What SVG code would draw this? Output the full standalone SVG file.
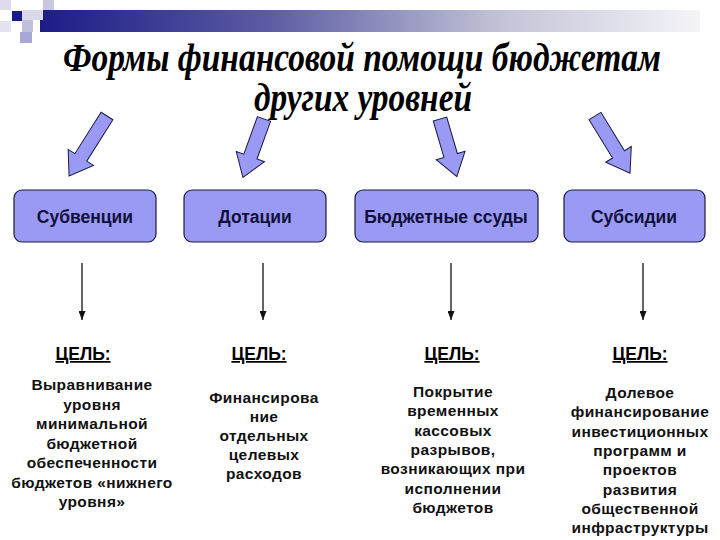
<svg xmlns="http://www.w3.org/2000/svg" width="720" height="540" viewBox="0 0 720 540">
<defs>
<linearGradient id="bar" x1="0" y1="0" x2="1" y2="0">
<stop offset="0" stop-color="#1c1c86"/>
<stop offset="0.35" stop-color="#5c5ca4"/>
<stop offset="0.7" stop-color="#c4c4d8"/>
<stop offset="1" stop-color="#f4f4f8"/>
</linearGradient>
<marker id="ah" viewBox="0 0 9 7" refX="9" refY="3.5" markerWidth="9" markerHeight="7" markerUnits="userSpaceOnUse" orient="auto">
<path d="M0,0 L9,3.5 L0,7 Z" fill="#111"/>
</marker>
<style>
.title{font-family:"Liberation Serif",serif;font-style:italic;font-weight:bold;font-size:39px;fill:#000;text-anchor:middle}
.box rect{fill:#9a9af5;stroke:#1a1a40;stroke-width:1.2}
.box text{font-family:"Liberation Sans",Arial,sans-serif;font-weight:bold;font-size:17.5px;fill:#10103a;text-anchor:middle}
.barrow{fill:#9a9af5;stroke:#1a1a40;stroke-width:1}
.conn line{stroke:#111;stroke-width:1.3}
.goal{font-family:"Liberation Sans",Arial,sans-serif;font-weight:bold;font-size:17.5px;fill:#000;text-anchor:middle;text-decoration:underline}
.desc{font-family:"Liberation Sans",Arial,sans-serif;font-weight:bold;font-size:15.5px;letter-spacing:0.4px;fill:#111;text-anchor:middle}
</style>
</defs>
<rect width="720" height="540" fill="#ffffff"/>
<g id="decor">
<rect x="40" y="10" width="660" height="22" fill="url(#bar)"/>
<rect x="0" y="0" width="11" height="10" fill="#dcdcec"/>
<rect x="43" y="0" width="11" height="10" fill="#c8c8e0"/>
<rect x="22" y="10" width="21" height="10" fill="#d8d8e8"/>
<rect x="12" y="11" width="10" height="10" fill="#1a1a8c"/>
<rect x="0" y="21" width="11" height="11" fill="#e4e4f0"/>
<rect x="22" y="20" width="11" height="12" fill="#c0c0dc"/>
<rect x="20" y="32" width="12" height="11" fill="#a8a8d4"/>
</g>
<g id="title">
<text class="title" x="362" y="71" textLength="598" lengthAdjust="spacingAndGlyphs">Формы финансовой помощи бюджетам</text>
<text class="title" x="363" y="111" textLength="218" lengthAdjust="spacingAndGlyphs">других уровней</text>
</g>
<g id="block-arrows">
<polygon class="barrow" transform="translate(107,116) rotate(32.3)" points="-7,0 7,0 7,49 15,49 0,71 -15,49 -7,49"/>
<polygon class="barrow" transform="translate(264,119) rotate(19.9)" points="-7,0 7,0 7,40 15,40 0,62 -15,40 -7,40"/>
<polygon class="barrow" transform="translate(440,119) rotate(-16.3)" points="-7,0 7,0 7,38 15,38 0,60 -15,38 -7,38"/>
<polygon class="barrow" transform="translate(595,116) rotate(-31.5)" points="-7,0 7,0 7,45 15,45 0,67 -15,45 -7,45"/>
</g>
<g id="n-subv" class="box"><rect x="14" y="190" width="142" height="52" rx="8"/><text x="85" y="223">Субвенции</text></g>
<g id="n-dot" class="box"><rect x="184" y="190" width="142" height="52" rx="8"/><text x="255" y="223">Дотации</text></g>
<g id="n-ssudy" class="box"><rect x="355" y="190" width="183" height="52" rx="8"/><text x="446" y="223">Бюджетные ссуды</text></g>
<g id="n-subs" class="box"><rect x="564" y="190" width="141" height="52" rx="8"/><text x="634" y="223">Субсидии</text></g>
<g id="connectors" class="conn">
<line x1="82" y1="263" x2="82" y2="320" marker-end="url(#ah)"/>
<line x1="263" y1="263" x2="263" y2="320" marker-end="url(#ah)"/>
<line x1="451" y1="263" x2="451" y2="320" marker-end="url(#ah)"/>
<line x1="643" y1="263" x2="643" y2="320" marker-end="url(#ah)"/>
</g>
<g id="goal1">
<text class="goal" x="83" y="360">ЦЕЛЬ:</text>
<text class="desc" x="92" y="390"><tspan x="92">Выравнивание</tspan><tspan x="92" dy="19.5">уровня</tspan><tspan x="92" dy="19.5">минимальной</tspan><tspan x="92" dy="19.5">бюджетной</tspan><tspan x="92" dy="19.5">обеспеченности</tspan><tspan x="92" dy="19.5">бюджетов «нижнего</tspan><tspan x="92" dy="19.5">уровня»</tspan></text>
</g>
<g id="goal2">
<text class="goal" x="259" y="360">ЦЕЛЬ:</text>
<text class="desc" x="264" y="403"><tspan x="264">Финансирова</tspan><tspan x="264" dy="19">ние</tspan><tspan x="264" dy="19">отдельных</tspan><tspan x="264" dy="19">целевых</tspan><tspan x="264" dy="19">расходов</tspan></text>
</g>
<g id="goal3">
<text class="goal" x="452" y="360">ЦЕЛЬ:</text>
<text class="desc" x="453" y="397"><tspan x="453">Покрытие</tspan><tspan x="453" dy="19.3">временных</tspan><tspan x="453" dy="19.3">кассовых</tspan><tspan x="453" dy="19.3">разрывов,</tspan><tspan x="453" dy="19.3">возникающих при</tspan><tspan x="453" dy="19.3">исполнении</tspan><tspan x="453" dy="19.3">бюджетов</tspan></text>
</g>
<g id="goal4">
<text class="goal" x="640" y="360">ЦЕЛЬ:</text>
<text class="desc" x="640" y="398"><tspan x="640">Долевое</tspan><tspan x="640" dy="19.3">финансирование</tspan><tspan x="640" dy="19.3">инвестиционных</tspan><tspan x="640" dy="19.3">программ и</tspan><tspan x="640" dy="19.3">проектов</tspan><tspan x="640" dy="19.3">развития</tspan><tspan x="640" dy="19.3">общественной</tspan><tspan x="640" dy="19.3">инфраструктуры</tspan></text>
</g>
</svg>
